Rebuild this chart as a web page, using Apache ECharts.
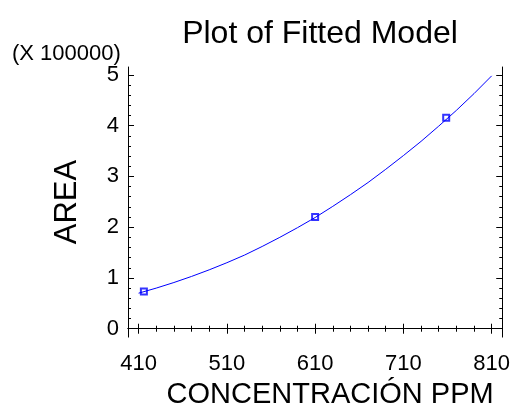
<!DOCTYPE html>
<html><head><meta charset="utf-8">
<script src="https://cdn.jsdelivr.net/npm/echarts@6/dist/echarts.min.js"></script>
<style>html,body{margin:0;padding:0;background:#fff}#c{width:513px;height:414px}</style>
</head><body><div id="c"></div>
<script>
// Data (AREA in units of 100000)
var curveX = [410,430,450,470,490,510,530,550,570,590,610,630,650,670,690,710,730,750,770,790,810];
var curveY = [0.70,0.80,0.91,1.03,1.16,1.30,1.45,1.62,1.80,1.99,2.19,2.41,2.64,2.88,3.14,3.41,3.69,3.99,4.30,4.63,4.98];
var obsX = [416, 610, 758.5];
var obsY = [0.735, 2.20, 4.155];
var xMajor = [410,510,610,710,810];
var xMinor = [430,450,470,490,530,550,570,590,630,650,670,690,730,750,770,790];
var yMajor = [0,1,2,3,4,5];
var yMinor = [0.2,0.4,0.6,0.8,1.2,1.4,1.6,1.8,2.2,2.4,2.6,2.8,3.2,3.4,3.6,3.8,4.2,4.4,4.6,4.8];
var xRange = [398, 822];
var yRange = [-0.165, 5.155];

var FONT = 'Liberation Sans';
var line = {show:true, lineStyle:{color:'#000', width:1}};
function ax(kind, pos, ticks, len, labels, extra){
  var range = kind === 'x' ? xRange : yRange;
  var a = {type:'value', position:pos, min:range[0], max:range[1], splitLine:{show:false},
    axisLine: labels ? line : (extra && extra.line ? line : {show:false}),
    axisTick:{show:true, inside:true, length:len, customValues:ticks, lineStyle:{color:'#000', width:1}},
    axisLabel: labels ? {show:true, customValues:ticks, margin:(kind === 'x' ? 16 : 9), color:'#000', fontSize:22, fontFamily:FONT} : {show:false}};
  return Object.assign(a, extra && extra.o || {});
}
var curve = curveX.map(function(x,i){return [x, curveY[i]];});
var obs = obsX.map(function(x,i){return [x, obsY[i]];});

var chart = echarts.init(document.getElementById('c'), null, {renderer:'canvas'});
chart.setOption({
  animation:false,
  backgroundColor:'#fff',
  title:[
    {text:'Plot of Fitted Model', left:315, textAlign:'center', top:13, textStyle:{fontFamily:FONT, fontWeight:'normal', fontSize:32, color:'#000'}},
    {text:'(X 100000)', left:7, top:38, textStyle:{fontFamily:FONT, fontWeight:'normal', fontSize:22, color:'#000'}}
  ],
  grid:{left:128, top:67, width:376, height:273, containLabel:false},
  xAxis:[
    ax('x','bottom', xMajor, 5, true, {o:{name:'CONCENTRACIÓN PPM', nameLocation:'middle', nameGap:40,
      nameTextStyle:{fontFamily:FONT, fontSize:29, color:'#000', padding:[0,0,0,30]}}}),
    ax('x','bottom', xMinor, 3, false),
    ax('x','top', xMajor, 5, false, {line:true}),
    ax('x','top', xMinor, 3, false)
  ],
  yAxis:[
    ax('y','left', yMajor, 6, true, {o:{name:'AREA', nameLocation:'middle', nameGap:45, nameRotate:90,
      nameTextStyle:{fontFamily:FONT, fontSize:31, color:'#000'}}}),
    ax('y','left', yMinor, 3, false),
    ax('y','right', yMajor, 6, false, {line:true}),
    ax('y','right', yMinor, 3, false)
  ],
  series:[
    {type:'line', data:curve, xAxisIndex:0, yAxisIndex:0, showSymbol:false, symbol:'none', smooth:false,
      lineStyle:{color:'#0000ff', width:1}},
    {type:'scatter', data:obs, xAxisIndex:0, yAxisIndex:0, symbol:'emptyRect', symbolSize:6,
      itemStyle:{color:'#0000ff', borderColor:'#0000ff', borderWidth:1}}
  ]
});
</script></body></html>
